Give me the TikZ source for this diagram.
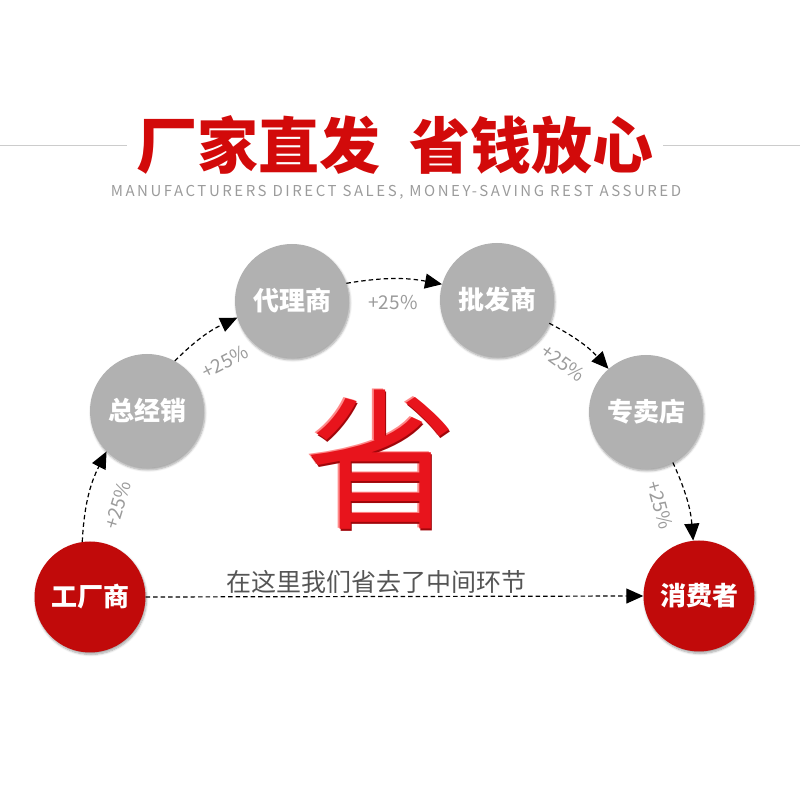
\documentclass[tikz,border=0pt]{standalone}
\usepackage{fontspec}
\setmainfont{Noto Sans CJK SC}
\newfontfamily\cjk{Noto Sans CJK SC}
\usetikzlibrary{arrows.meta,shadows.blur}

\definecolor{titlered}{HTML}{D20A0A}
\definecolor{nodered}{HTML}{C10A0A}
\definecolor{nodegray}{HTML}{B1B1B1}
\definecolor{labelgray}{HTML}{9B9B9B}
\definecolor{textgray}{HTML}{555555}
\definecolor{bigred}{HTML}{E8141C}
\definecolor{bigdark}{HTML}{A0060A}
\definecolor{biglight}{HTML}{FF8A8A}

\begin{document}
\begin{tikzpicture}[x=1pt, y=1pt,
    circgray/.style={circle, fill=nodegray, minimum size=114pt, inner sep=0pt,
        text=white, font=\cjk\bfseries\fontsize{26}{26}\selectfont,
        blur shadow={shadow xshift=1pt, shadow yshift=-2pt, shadow opacity=35, shadow blur steps=6}},
    circred/.style={circgray, fill=nodered, minimum size=111pt},
    flowarrow/.style={-{Triangle[length=17pt,width=15pt]}, dash pattern=on 4.5pt off 3pt, line width=1.2pt},
    pluslabel/.style={text=labelgray, font=\cjk\fontsize{19}{19}\selectfont, inner sep=0pt},
    bigchar/.style={font=\cjk\fontsize{152}{152}\selectfont, inner sep=0pt}]

    \useasboundingbox (0,0) rectangle (800,800);

    % --- Heading with side rules ---
    \draw[black!20, line width=0.8pt] (0,655) -- (127,655);
    \draw[black!20, line width=0.8pt] (663,655) -- (800,655);
    \node[text=titlered, font=\cjk\bfseries\fontsize{61}{61}\selectfont] (title) at (395,655) {厂家直发\hspace{30pt}省钱放心};
    \node[text=labelgray, font=\cjk\fontsize{15}{15}\selectfont\addfontfeature{LetterSpace=17}] (subtitle) at (396,608) {MANUFACTURERS DIRECT SALES, MONEY-SAVING REST ASSURED};

    % --- Chain of dealers ---
    \node[circred]  (factory)  at (90,203)  {工厂商};
    \node[circgray] (general)  at (147,389) {总经销};
    \node[circgray] (agent)    at (292,499) {代理商};
    \node[circgray] (wholesale) at (497,500) {批发商};
    \node[circgray] (store)    at (646,388) {专卖店};
    \node[circred]  (consumer) at (699,204) {消费者};

    % --- Mark-ups between the stages ---
    \draw[flowarrow] (factory.98)  to[bend left=12] (general.225);
    \draw[flowarrow] (general.61)  to[bend left=10] (agent.197);
    \draw[flowarrow] (agent.18)    to[bend left=10] (wholesale.164);
    \draw[flowarrow] (wholesale.-24) to[bend left=10] (store.131);
    \draw[flowarrow] (store.-62)   to[bend left=10] (consumer.96);
    \draw[flowarrow] (factory.east) -- (consumer.west);

    \node[pluslabel, rotate=73]  (up1) at (118,295) {+25\%};
    \node[pluslabel, rotate=27]  (up2) at (225,438) {+25\%};
    \node[pluslabel]             (up3) at (393,497) {+25\%};
    \node[pluslabel, rotate=-36] (up4) at (563,437) {+25\%};
    \node[pluslabel, rotate=-75] (up5) at (660,295) {+25\%};

    % --- The big character in the middle ---
    \node[bigchar, text=biglight] (savelight) at (379.8,341.2) {省};
    \node[bigchar, text=bigdark]  (savedark)  at (382.5,338.5) {省};
    \node[bigchar, text=bigred]   (save)      at (381,340) {省};

    \node[text=textgray, font=\cjk\fontsize{25}{25}\selectfont] (note) at (376,218) {在这里我们省去了中间环节};
\end{tikzpicture}
\end{document}
